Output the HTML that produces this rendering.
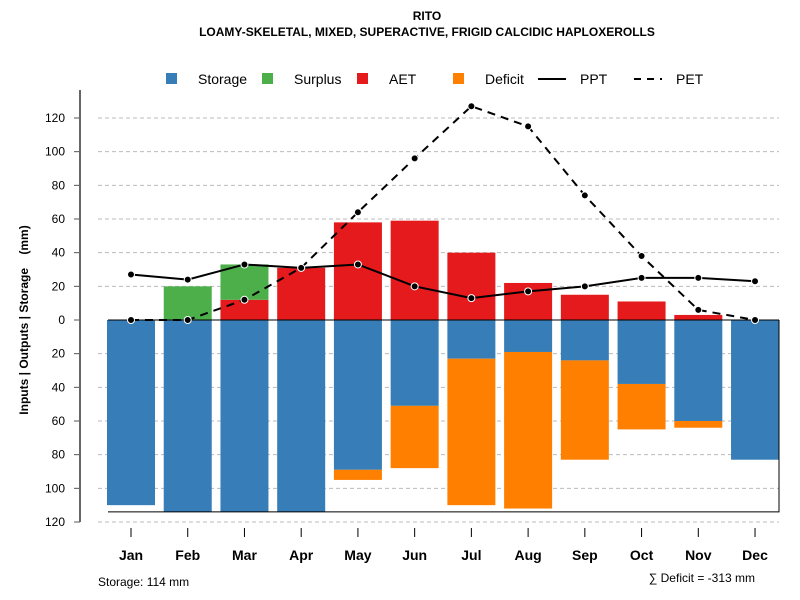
<!DOCTYPE html>
<html><head><meta charset="utf-8"><style>
body{margin:0;background:#fff}
svg{display:block;font-family:"Liberation Sans",sans-serif}
</style></head><body>
<svg id="chart" width="800" height="600" viewBox="0 0 800 600">
<rect width="800" height="600" fill="#fff"/>
<text x="427" y="20" text-anchor="middle" font-size="12" font-weight="bold">RITO</text>
<text x="427" y="36" text-anchor="middle" font-size="12" font-weight="bold">LOAMY-SKELETAL, MIXED, SUPERACTIVE, FRIGID CALCIDIC HAPLOXEROLLS</text>
<g id="legend" font-size="14">
<rect x="166" y="73" width="11" height="11" fill="#377eb8"/><text x="198" y="84">Storage</text>
<rect x="262" y="73" width="11" height="11" fill="#4daf4a"/><text x="294" y="84">Surplus</text>
<rect x="357" y="73" width="11" height="11" fill="#e41a1c"/><text x="389" y="84">AET</text>
<rect x="453" y="73" width="11" height="11" fill="#ff7f00"/><text x="485" y="84">Deficit</text>
<line x1="538" y1="79" x2="566" y2="79" stroke="#000" stroke-width="2"/><text x="580" y="84">PPT</text>
<line x1="634" y1="79" x2="662" y2="79" stroke="#000" stroke-width="2" stroke-dasharray="7,6"/><text x="676" y="84">PET</text>
</g>
<text xml:space="preserve" style="white-space:pre" transform="translate(28,320) rotate(-90)" text-anchor="middle" font-size="12" font-weight="bold">Inputs | Outputs | Storage    (mm)</text>
<text x="98" y="586" font-size="12">Storage: 114 mm</text>
<text x="755" y="582" text-anchor="end" font-size="12">∑ Deficit = -313 mm</text>
<g id="plot"></g>
</svg>
<script>
const months=["Jan","Feb","Mar","Apr","May","Jun","Jul","Aug","Sep","Oct","Nov","Dec"];
const storage=[110,114,114,114,89,51,23,19,24,38,60,83];
const deficit=[0,0,0,0,6,37,87,93,59,27,4,0];
const aet=[0,0,12,31,58,59,40,22,15,11,3,0];
const surplus=[0,20,21,0,0,0,0,0,0,0,0,0];
const ppt=[27,24,33,31,33,20,13,17,20,25,25,23];
const pet=[0,0,12,31,64,96,127,115,74,38,6,0];
const yTicks=[-120,-100,-80,-60,-40,-20,0,20,40,60,80,100,120];
const storageCap=114;
const NS="http://www.w3.org/2000/svg";
const g=document.getElementById('plot');
const y=v=>320-v*1.6833;
const x=i=>131+i*56.73;
const bw=48;
function el(t,a){const e=document.createElementNS(NS,t);for(const k in a)e.setAttribute(k,a[k]);g.appendChild(e);return e;}
yTicks.forEach(t=>{
  if(t!==0){const l=el('line',{x1:98,x2:779,y1:y(t),y2:y(t),stroke:'#bbb','stroke-dasharray':'4,3'});
  
  }
  const tk=el('line',{x1:74,x2:80,y1:y(t),y2:y(t),stroke:'#555'});
  
  
  const tx=el('text',{x:65,y:y(t)+4,'text-anchor':'end','font-size':12});
  tx.textContent=Math.abs(t);
  
  
});
const ax=el('line',{x1:80,x2:80,y1:90,y2:y(-120),stroke:'#666','stroke-width':2});


function bar(i,v0,v1,c,n){const r=el('rect',{x:x(i)-bw/2,y:Math.min(y(v0),y(v1)),width:bw,height:Math.abs(y(v0)-y(v1)),fill:c});
 
 }
months.forEach((m,i)=>{
  bar(i,0,-storage[i],'#377eb8','bar-storage-'+m.toLowerCase());
  if(deficit[i])bar(i,-storage[i],-storage[i]-deficit[i],'#ff7f00','bar-deficit-'+m.toLowerCase());
  if(aet[i])bar(i,0,aet[i],'#e41a1c','bar-aet-'+m.toLowerCase());
  if(surplus[i])bar(i,aet[i],aet[i]+surplus[i],'#4daf4a','bar-surplus-'+m.toLowerCase());
  const tk=el('line',{x1:x(i),x2:x(i),y1:528,y2:537,stroke:'#000'});
  
  
  const t=el('text',{x:x(i),y:560,'text-anchor':'middle','font-size':14,'font-weight':'bold'});
  t.textContent=m;
  
  
});
const cap=el('path',{d:`M108 ${y(-storageCap)} H779 V320`,fill:'none',stroke:'#000','stroke-width':1});


const zl=el('line',{x1:108,x2:779,y1:320,y2:320,stroke:'#000'});


function series(arr,dash,n){
  const p=el('polyline',{points:arr.map((v,i)=>x(i)+','+y(v)).join(' '),fill:'none',stroke:'#000','stroke-width':2,'stroke-dasharray':dash});
  
  
  arr.forEach((v,i)=>{const c=el('circle',{cx:x(i),cy:y(v),r:3.5,fill:'#000',stroke:'#fff','stroke-width':1});
   
   });
}
series(ppt,'none','ppt');
series(pet,'8,6','pet');
</script>
</body></html>
